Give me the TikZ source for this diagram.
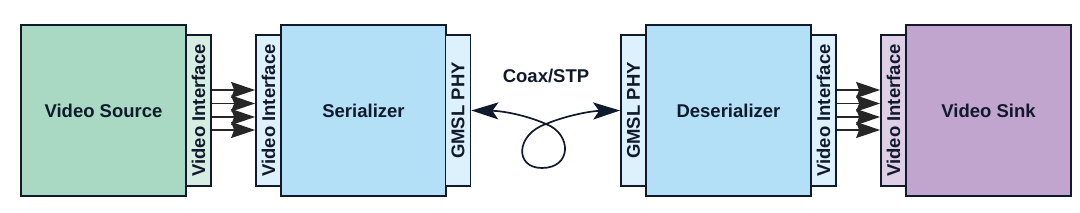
\documentclass[tikz,border=0pt]{standalone}
\usepackage{fontspec}
\setmainfont{Liberation Sans}
\usetikzlibrary{arrows.meta}
\definecolor{edge}{HTML}{111A2C}
\definecolor{srcfill}{HTML}{A9D9C3}
\definecolor{srcstrip}{HTML}{D6EEE2}
\definecolor{serfill}{HTML}{B3E0F6}
\definecolor{serstrip}{HTML}{DCF1FC}
\definecolor{sinkfill}{HTML}{C1A5CE}
\definecolor{sinkstrip}{HTML}{DFCFE6}
\definecolor{arrowgray}{HTML}{262626}
\begin{document}
\begin{tikzpicture}[x=1pt,y=-1pt,
  blk/.style={draw=edge, line width=1.7pt, inner sep=0pt, minimum width=165pt, minimum height=171pt,
    font=\fontsize{18.5}{22}\selectfont\bfseries, text=edge},
  strip/.style={draw=edge, line width=1.7pt, inner sep=0pt, minimum width=25pt, minimum height=151pt},
  striptext/.style={rotate=90, inner sep=0pt, font=\fontsize{18.5}{22}\selectfont\bfseries, text=edge},
  busarrow/.style={draw=arrowgray, line width=1.7pt, -{Stealth[length=24pt, width=16pt, inset=3pt]}},
  cable/.style={draw=edge, line width=1.7pt, {Stealth[length=27pt, width=17pt, inset=6pt]}-{Stealth[length=27pt, width=17pt, inset=6pt]}}
]
\useasboundingbox (0,0) rectangle (1080,212);

% Video source
\node[blk, fill=srcfill] (src) at (103.5,110.5) {Video Source};
\node[strip, fill=srcstrip] (vi1) at (198.5,110.5) {};
\node[striptext] (vi1t) at (vi1) {Video Interface};

% Serializer
\node[strip, fill=serstrip] (vi2) at (268.5,110.5) {};
\node[striptext] (vi2t) at (vi2) {Video Interface};
\node[blk, fill=serfill] (ser) at (363.5,110.5) {Serializer};
\node[strip, fill=serstrip] (phy1) at (458,110.5) {};
\node[striptext] (phy1t) at (phy1) {GMSL PHY};

% Deserializer
\node[strip, fill=serstrip] (phy2) at (633.5,110.5) {};
\node[striptext] (phy2t) at (phy2) {GMSL PHY};
\node[blk, fill=serfill] (des) at (728.5,110.5) {Deserializer};
\node[strip, fill=serstrip] (vi3) at (823.5,110.5) {};
\node[striptext] (vi3t) at (vi3) {Video Interface};

% Sink
\node[strip, fill=sinkstrip] (vi4) at (893.5,110.5) {};
\node[striptext] (vi4t) at (vi4) {Video Interface};
\node[blk, fill=sinkfill] (sink) at (988.5,110.5) {Video Sink};

% bus arrows
\foreach \d in {20.5,7,-6.5,-19.5}{
  \draw[busarrow] ([yshift=\d pt]vi1.east) -- ([yshift=\d pt]vi2.west);
  \draw[busarrow] ([yshift=\d pt]vi3.east) -- ([yshift=\d pt]vi4.west);
}

% cable
\node[font=\fontsize{18.5}{22}\selectfont\bfseries, text=edge, inner sep=0pt] (coax) at (546,76) {Coax/STP};
\coordinate (cross) at (546,124);
\draw[cable] ([yshift=0pt]phy1.east) .. controls (505,111) and (528,116) .. (cross)
  .. controls (572,134) and (572,168) .. (542,168)
  .. controls (514,168) and (516,134) .. (cross)
  .. controls (565,116) and (590,111) .. ([yshift=0pt]phy2.west);
\end{tikzpicture}
\end{document}
